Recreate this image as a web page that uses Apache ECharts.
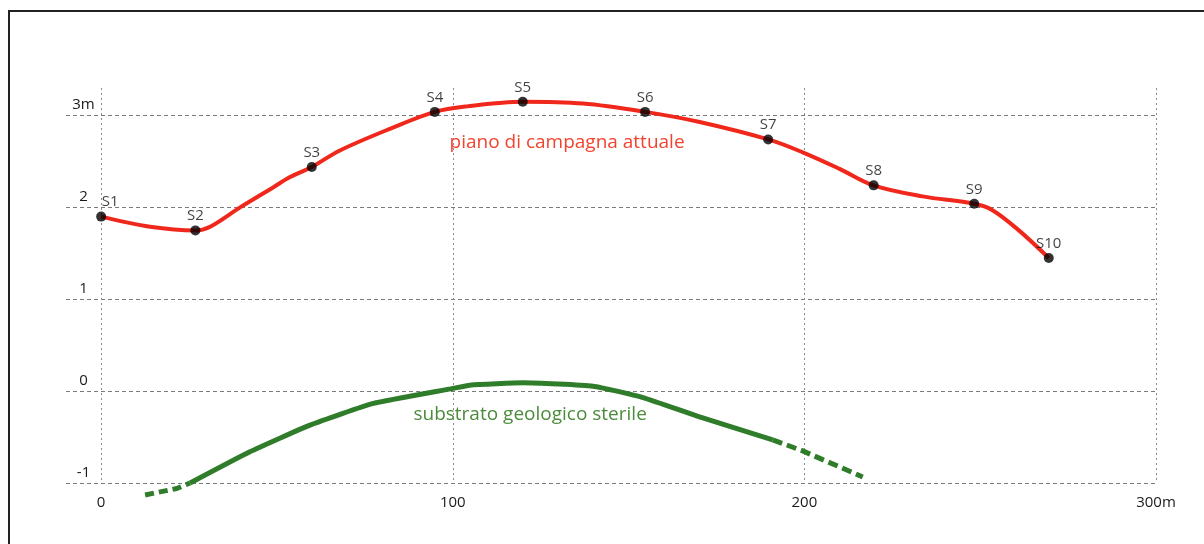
<!DOCTYPE html>
<html>
<head>
<meta charset="utf-8">
<script src="https://cdn.jsdelivr.net/npm/echarts@6/dist/echarts.min.js"></script>
<style>
  html, body { margin: 0; padding: 0; background: #fff; }
  #wrap { position: relative; width: 1204px; height: 544px; overflow: hidden; }
  #frame { position: absolute; left: 8px; top: 10px; width: 1300px; height: 700px; border-top: 2px solid #222; border-left: 2px solid #222; box-sizing: border-box; }
  #chart { position: absolute; left: 0; top: 0; width: 1204px; height: 544px; }
</style>
</head>
<body>
<div id="wrap">
  <div id="frame"></div>
  <div id="chart"></div>
</div>
<script>
// Survey points (sondaggi)
const surveyNames = ['S1', 'S2', 'S3', 'S4', 'S5', 'S6', 'S7', 'S8', 'S9', 'S10'];
const surveyX = [0, 26.8, 59.9, 94.9, 119.9, 154.7, 189.7, 219.7, 248.3, 269.5];
const surveyY = [1.90, 1.75, 2.44, 3.04, 3.15, 3.04, 2.74, 2.24, 2.04, 1.45];

// Current ground level profile (piano di campagna attuale)
const groundX = [0, 13.9, 26.8, 31, 39.5, 49, 53.7, 59.9, 67.9, 82.1, 94.9, 104, 119.9, 137, 154.7, 170.2, 189.7, 199.5, 210, 219.7, 233.6, 248.3, 253.5, 261, 269.5];
const groundY = [1.90, 1.79, 1.75, 1.79, 2.00, 2.22, 2.33, 2.44, 2.62, 2.855, 3.04, 3.10, 3.15, 3.13, 3.04, 2.93, 2.74, 2.60, 2.42, 2.24, 2.12, 2.04, 1.97, 1.75, 1.45];

// Sterile geological substrate (substrato geologico sterile)
const subLeftX = [12.5, 21.5, 25.3];
const subLeftY = [-1.13, -1.06, -1.0];
const subX = [25.3, 42.3, 59.4, 77.4, 100.1, 104.8, 120, 139.9, 154.1, 170.2, 191];
const subY = [-1.0, -0.66, -0.37, -0.134, 0.03, 0.065, 0.09, 0.054, -0.07, -0.28, -0.53];
const subRightX = [191, 199.5, 216.6];
const subRightY = [-0.53, -0.65, -0.935];

// Axis ticks
const xTicks = [0, 100, 200, 300];
const yTicks = [-1, 0, 1, 2, 3];

// Annotation labels
const groundLabel = { text: 'piano di campagna attuale', x: 132.5, y: 2.71 };
const subLabel = { text: 'substrato geologico sterile', x: 122.0, y: -0.26 };

const zip = (xs, ys) => xs.map((x, i) => [x, ys[i]]);

const FONT = '"Open Sans", "Noto Sans", sans-serif';
const RED = '#f0281c';
const GREEN = '#2f7d2a';

const chart = echarts.init(document.getElementById('chart'), null, { renderer: 'canvas' });

chart.setOption({
  animation: false,
  backgroundColor: 'transparent',
  grid: { left: 66, right: 48, top: 88, bottom: 61, containLabel: false },
  xAxis: {
    type: 'value',
    min: -10,
    max: 300,
    axisLine: { show: false },
    axisTick: { show: false, customValues: xTicks },
    axisLabel: {
      customValues: xTicks,
      margin: 12,
      fontFamily: FONT,
      fontSize: 15,
      color: '#1a1a1a',
      formatter: v => (v === 300 ? '300m' : String(v))
    },
    splitLine: { show: true, lineStyle: { type: [2, 3], color: '#8a8a8a', width: 1 } }
  },
  yAxis: {
    type: 'value',
    min: -1,
    max: 3.3,
    offset: -17.5,
    axisLine: { show: false },
    axisTick: { show: false, customValues: yTicks },
    axisLabel: {
      customValues: yTicks,
      margin: 0,
      align: 'center',
      verticalAlign: 'bottom',
      padding: [0, 0, 3, 0],
      fontFamily: FONT,
      fontSize: 15,
      color: '#1a1a1a',
      formatter: v => (v === 3 ? '3m' : String(v))
    },
    splitLine: { show: true, lineStyle: { type: [4, 3], color: '#7a7a7a', width: 1 } }
  },
  series: [
    {
      type: 'line',
      data: zip(groundX, groundY),
      smooth: 0.35,
      showSymbol: false,
      lineStyle: { color: RED, width: 4 },
      z: 3,
      markPoint: {
        symbolSize: 0,
        silent: true,
        data: [{
          coord: [groundLabel.x, groundLabel.y],
          label: {
            show: true, position: 'inside', formatter: groundLabel.text,
            color: '#f2432f', fontFamily: FONT, fontSize: 19
          }
        }]
      }
    },
    {
      type: 'line',
      data: zip(subLeftX, subLeftY),
      showSymbol: false,
      clip: false,
      lineStyle: { color: GREEN, width: 5, type: [9, 5] },
      z: 3
    },
    {
      type: 'line',
      data: zip(subX, subY),
      smooth: 0.15,
      showSymbol: false,
      clip: false,
      lineStyle: { color: GREEN, width: 5 },
      z: 3,
      markPoint: {
        symbolSize: 0,
        silent: true,
        data: [{
          coord: [subLabel.x, subLabel.y],
          label: {
            show: true, position: 'inside', formatter: subLabel.text,
            color: '#4b8b3b', fontFamily: FONT, fontSize: 19
          }
        }]
      }
    },
    {
      type: 'line',
      data: zip(subRightX, subRightY),
      showSymbol: false,
      lineStyle: { color: GREEN, width: 5, type: [10, 5] },
      z: 3
    },
    {
      type: 'scatter',
      data: surveyNames.map((n, i) => ({
        name: n,
        value: [surveyX[i], surveyY[i]],
        label: i === 0 ? { offset: [9, 0] } : undefined
      })),
      symbol: 'circle',
      symbolSize: 10,
      itemStyle: { color: '#000' },
      z: 5,
      label: {
        show: true,
        position: 'top',
        distance: 2,
        formatter: p => p.name,
        fontFamily: FONT,
        fontSize: 15,
        color: '#111'
      }
    }
  ]
});
</script>
</body>
</html>
